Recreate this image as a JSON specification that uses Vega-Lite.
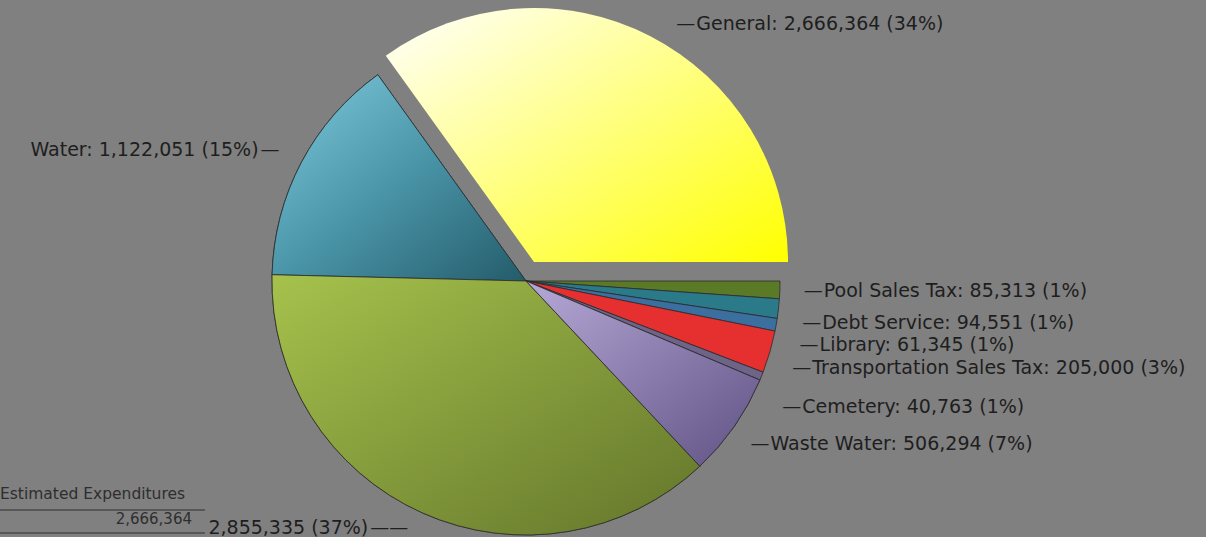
{
  "$schema": "https://vega.github.io/schema/vega-lite/v6.json",
  "width": 1052,
  "height": 512,
  "autosize": {"type": "none"},
  "padding": {"left": 0, "top": 25, "right": 154, "bottom": 0},
  "background": "#808080",
  "view": {"stroke": null},
  "config": {"font": "DejaVu Sans"},
  "datasets": {
    "funds": [
      {"cat": "Pool Sales Tax", "value": 85313, "label": "Pool Sales Tax: 85,313 (1%)", "ord": 1},
      {"cat": "Debt Service", "value": 94551, "label": "Debt Service: 94,551 (1%)", "ord": 2},
      {"cat": "Library", "value": 61345, "label": "Library: 61,345 (1%)", "ord": 3},
      {"cat": "Transportation Sales Tax", "value": 205000, "label": "Transportation Sales Tax: 205,000 (3%)", "ord": 4},
      {"cat": "Cemetery", "value": 40763, "label": "Cemetery: 40,763 (1%)", "ord": 5},
      {"cat": "Waste Water", "value": 506294, "label": "Waste Water: 506,294 (7%)", "ord": 6},
      {"cat": "Other", "value": 2855335, "label": "2,855,335 (37%)", "ord": 7},
      {"cat": "Water", "value": 1122051, "label": "Water: 1,122,051 (15%)", "ord": 8},
      {"cat": "General", "value": 2666364, "label": "General: 2,666,364 (34%)", "ord": 9}
    ]
  },
  "data": {"name": "funds"},
  "layer": [
    {
      "mark": {"type": "arc", "radius": 254, "stroke": "#2b2b2b", "strokeWidth": 0.8},
      "encoding": {
        "theta": {"field": "value", "type": "quantitative", "stack": true, "scale": {"range": [1.5707963, 7.8539816]}},
        "order": {"field": "ord", "type": "quantitative"},
        "color": {
          "field": "cat", "type": "nominal", "legend": null,
          "scale": {
            "domain": ["Pool Sales Tax", "Debt Service", "Library", "Transportation Sales Tax", "Cemetery", "Waste Water", "Other", "Water", "General"],
            "range": ["#5b7a28", "#2b7a8a", "#3a6fa0", "#e63030", "#6e6488", "#8a7aaa", "#86a03c", "#4a95a8", "#ffff20"]
          }
        },
        "opacity": {"condition": {"test": "datum.cat === 'General'", "value": 0}, "value": 1}
      }
    },
    {
      "mark": {"type": "arc", "radius": 254, "stroke": "#2b2b2b", "strokeWidth": 0.8,
        "fill": {"gradient": "linear", "x1": 0, "y1": 0, "x2": 1, "y2": 1,
          "stops": [{"offset": 0, "color": "#7fcadd"}, {"offset": 0.5, "color": "#4a95a8"}, {"offset": 1, "color": "#245c6b"}]}},
      "encoding": {
        "theta": {"field": "value", "type": "quantitative", "stack": true},
        "order": {"field": "ord", "type": "quantitative"},
        "opacity": {"condition": {"test": "datum.cat === 'Water'", "value": 1}, "value": 0}
      }
    },
    {
      "mark": {"type": "arc", "radius": 254, "stroke": "#2b2b2b", "strokeWidth": 0.8,
        "fill": {"gradient": "linear", "x1": 0, "y1": 0, "x2": 1, "y2": 1,
          "stops": [{"offset": 0, "color": "#a6c24c"}, {"offset": 1, "color": "#63752b"}]}},
      "encoding": {
        "theta": {"field": "value", "type": "quantitative", "stack": true},
        "order": {"field": "ord", "type": "quantitative"},
        "opacity": {"condition": {"test": "datum.cat === 'Other'", "value": 1}, "value": 0}
      }
    },
    {
      "mark": {"type": "arc", "radius": 254, "stroke": "#2b2b2b", "strokeWidth": 0.8,
        "fill": {"gradient": "linear", "x1": 0, "y1": 0, "x2": 1, "y2": 1,
          "stops": [{"offset": 0, "color": "#b6a8d6"}, {"offset": 1, "color": "#605284"}]}},
      "encoding": {
        "theta": {"field": "value", "type": "quantitative", "stack": true},
        "order": {"field": "ord", "type": "quantitative"},
        "opacity": {"condition": {"test": "datum.cat === 'Waste Water'", "value": 1}, "value": 0}
      }
    },
    {
      "mark": {"type": "arc", "radius": 254, "xOffset": 8, "yOffset": -19, "strokeWidth": 0,
        "fill": {"gradient": "linear", "x1": 0, "y1": 0, "x2": 1, "y2": 1,
          "stops": [{"offset": 0, "color": "#ffffff"}, {"offset": 0.5, "color": "#ffff80"}, {"offset": 1, "color": "#ffff00"}]}},
      "encoding": {
        "theta": {"field": "value", "type": "quantitative", "stack": true},
        "order": {"field": "ord", "type": "quantitative"},
        "opacity": {"condition": {"test": "datum.cat === 'General'", "value": 1}, "value": 0}
      }
    },
    {
      "mark": {"type": "text", "radius": 298, "align": "left", "baseline": "middle", "fontSize": 19, "fill": "#1e1e1e", "yOffset": 0},
      "encoding": {
        "theta": {"field": "value", "type": "quantitative", "stack": true},
        "order": {"field": "ord", "type": "quantitative"},
        "text": {"condition": {"test": "datum.cat === 'Pool Sales Tax'", "field": "label", "type": "nominal"}, "value": ""}
      }
    },
    {
      "mark": {"type": "text", "radius": 298, "align": "right", "baseline": "middle", "fontSize": 19, "fill": "#1e1e1e", "yOffset": 0, "dx": -1},
      "encoding": {
        "theta": {"field": "value", "type": "quantitative", "stack": true},
        "order": {"field": "ord", "type": "quantitative"},
        "text": {"condition": {"test": "datum.cat === 'Pool Sales Tax'", "value": "—"}, "value": ""}
      }
    },
    {
      "mark": {"type": "text", "radius": 298, "align": "left", "baseline": "middle", "fontSize": 19, "fill": "#1e1e1e", "yOffset": 10},
      "encoding": {
        "theta": {"field": "value", "type": "quantitative", "stack": true},
        "order": {"field": "ord", "type": "quantitative"},
        "text": {"condition": {"test": "datum.cat === 'Debt Service'", "field": "label", "type": "nominal"}, "value": ""}
      }
    },
    {
      "mark": {"type": "text", "radius": 298, "align": "right", "baseline": "middle", "fontSize": 19, "fill": "#1e1e1e", "yOffset": 10, "dx": -1},
      "encoding": {
        "theta": {"field": "value", "type": "quantitative", "stack": true},
        "order": {"field": "ord", "type": "quantitative"},
        "text": {"condition": {"test": "datum.cat === 'Debt Service'", "value": "—"}, "value": ""}
      }
    },
    {
      "mark": {"type": "text", "radius": 298, "align": "left", "baseline": "middle", "fontSize": 19, "fill": "#1e1e1e", "yOffset": 13},
      "encoding": {
        "theta": {"field": "value", "type": "quantitative", "stack": true},
        "order": {"field": "ord", "type": "quantitative"},
        "text": {"condition": {"test": "datum.cat === 'Library'", "field": "label", "type": "nominal"}, "value": ""}
      }
    },
    {
      "mark": {"type": "text", "radius": 298, "align": "right", "baseline": "middle", "fontSize": 19, "fill": "#1e1e1e", "yOffset": 13, "dx": -1},
      "encoding": {
        "theta": {"field": "value", "type": "quantitative", "stack": true},
        "order": {"field": "ord", "type": "quantitative"},
        "text": {"condition": {"test": "datum.cat === 'Library'", "value": "—"}, "value": ""}
      }
    },
    {
      "mark": {"type": "text", "radius": 298, "align": "left", "baseline": "middle", "fontSize": 19, "fill": "#1e1e1e", "yOffset": 4},
      "encoding": {
        "theta": {"field": "value", "type": "quantitative", "stack": true},
        "order": {"field": "ord", "type": "quantitative"},
        "text": {"condition": {"test": "datum.cat === 'Transportation Sales Tax'", "field": "label", "type": "nominal"}, "value": ""}
      }
    },
    {
      "mark": {"type": "text", "radius": 298, "align": "right", "baseline": "middle", "fontSize": 19, "fill": "#1e1e1e", "yOffset": 4, "dx": -1},
      "encoding": {
        "theta": {"field": "value", "type": "quantitative", "stack": true},
        "order": {"field": "ord", "type": "quantitative"},
        "text": {"condition": {"test": "datum.cat === 'Transportation Sales Tax'", "value": "—"}, "value": ""}
      }
    },
    {
      "mark": {"type": "text", "radius": 298, "align": "left", "baseline": "middle", "fontSize": 19, "fill": "#1e1e1e", "yOffset": 14},
      "encoding": {
        "theta": {"field": "value", "type": "quantitative", "stack": true},
        "order": {"field": "ord", "type": "quantitative"},
        "text": {"condition": {"test": "datum.cat === 'Cemetery'", "field": "label", "type": "nominal"}, "value": ""}
      }
    },
    {
      "mark": {"type": "text", "radius": 298, "align": "right", "baseline": "middle", "fontSize": 19, "fill": "#1e1e1e", "yOffset": 14, "dx": -1},
      "encoding": {
        "theta": {"field": "value", "type": "quantitative", "stack": true},
        "order": {"field": "ord", "type": "quantitative"},
        "text": {"condition": {"test": "datum.cat === 'Cemetery'", "value": "—"}, "value": ""}
      }
    },
    {
      "mark": {"type": "text", "radius": 298, "align": "left", "baseline": "middle", "fontSize": 19, "fill": "#1e1e1e", "yOffset": -7},
      "encoding": {
        "theta": {"field": "value", "type": "quantitative", "stack": true},
        "order": {"field": "ord", "type": "quantitative"},
        "text": {"condition": {"test": "datum.cat === 'Waste Water'", "field": "label", "type": "nominal"}, "value": ""}
      }
    },
    {
      "mark": {"type": "text", "radius": 298, "align": "right", "baseline": "middle", "fontSize": 19, "fill": "#1e1e1e", "yOffset": -7, "dx": -1},
      "encoding": {
        "theta": {"field": "value", "type": "quantitative", "stack": true},
        "order": {"field": "ord", "type": "quantitative"},
        "text": {"condition": {"test": "datum.cat === 'Waste Water'", "value": "—"}, "value": ""}
      }
    },
    {
      "mark": {"type": "text", "radius": 298, "align": "right", "baseline": "middle", "fontSize": 19, "fill": "#1e1e1e", "yOffset": 8, "dx": -4},
      "encoding": {
        "theta": {"field": "value", "type": "quantitative", "stack": true},
        "order": {"field": "ord", "type": "quantitative"},
        "text": {"condition": {"test": "datum.cat === 'Water'", "field": "label", "type": "nominal"}, "value": ""}
      }
    },
    {
      "mark": {"type": "text", "radius": 298, "align": "left", "baseline": "middle", "fontSize": 19, "fill": "#1e1e1e", "yOffset": 8, "dx": -2},
      "encoding": {
        "theta": {"field": "value", "type": "quantitative", "stack": true},
        "order": {"field": "ord", "type": "quantitative"},
        "text": {"condition": {"test": "datum.cat === 'Water'", "value": "—"}, "value": ""}
      }
    },
    {
      "mark": {"type": "text", "radius": 298, "align": "right", "baseline": "middle", "fontSize": 19, "fill": "#1e1e1e", "xOffset": -36, "yOffset": -25},
      "encoding": {
        "theta": {"field": "value", "type": "quantitative", "stack": true},
        "order": {"field": "ord", "type": "quantitative"},
        "text": {"condition": {"test": "datum.cat === 'Other'", "field": "label", "type": "nominal"}, "value": ""}
      }
    },
    {
      "mark": {"type": "text", "radius": 298, "align": "left", "baseline": "middle", "fontSize": 19, "fill": "#1e1e1e", "xOffset": -34, "yOffset": -25},
      "encoding": {
        "theta": {"field": "value", "type": "quantitative", "stack": true},
        "order": {"field": "ord", "type": "quantitative"},
        "text": {"condition": {"test": "datum.cat === 'Other'", "value": "——"}, "value": ""}
      }
    },
    {
      "mark": {"type": "text", "radius": 268, "align": "left", "baseline": "middle", "fontSize": 19, "fill": "#1e1e1e", "xOffset": 8, "yOffset": -19, "dx": 40},
      "encoding": {
        "theta": {"field": "value", "type": "quantitative", "stack": true},
        "order": {"field": "ord", "type": "quantitative"},
        "text": {"condition": {"test": "datum.cat === 'General'", "field": "label", "type": "nominal"}, "value": ""}
      }
    },
    {
      "mark": {"type": "text", "radius": 268, "align": "left", "baseline": "middle", "fontSize": 19, "fill": "#1e1e1e", "xOffset": 8, "yOffset": -19, "dx": 20},
      "encoding": {
        "theta": {"field": "value", "type": "quantitative", "stack": true},
        "order": {"field": "ord", "type": "quantitative"},
        "text": {"condition": {"test": "datum.cat === 'General'", "value": "—"}, "value": ""}
      }
    },
    {
      "data": {"values": [{"t": "Estimated Expenditures"}]},
      "mark": {"type": "text", "x": 0, "y": 469, "align": "left", "baseline": "middle", "fontSize": 15.5, "fill": "#2e2e2e"},
      "encoding": {"text": {"field": "t", "type": "nominal"}}
    },
    {
      "data": {"values": [{"t": "2,666,364"}]},
      "mark": {"type": "text", "x": 192, "y": 494, "align": "right", "baseline": "middle", "fontSize": 15, "fill": "#2e2e2e"},
      "encoding": {"text": {"field": "t", "type": "nominal"}}
    },
    {
      "data": {"values": [{"t": "line"}]},
      "mark": {"type": "rule", "stroke": "#2e2e2e", "strokeWidth": 1},
      "encoding": {"x": {"value": 0}, "x2": {"value": 205}, "y": {"value": 485}}
    },
    {
      "data": {"values": [{"t": "line"}]},
      "mark": {"type": "rule", "stroke": "#2e2e2e", "strokeWidth": 1},
      "encoding": {"x": {"value": 0}, "x2": {"value": 205}, "y": {"value": 508}}
    }
  ]
}
